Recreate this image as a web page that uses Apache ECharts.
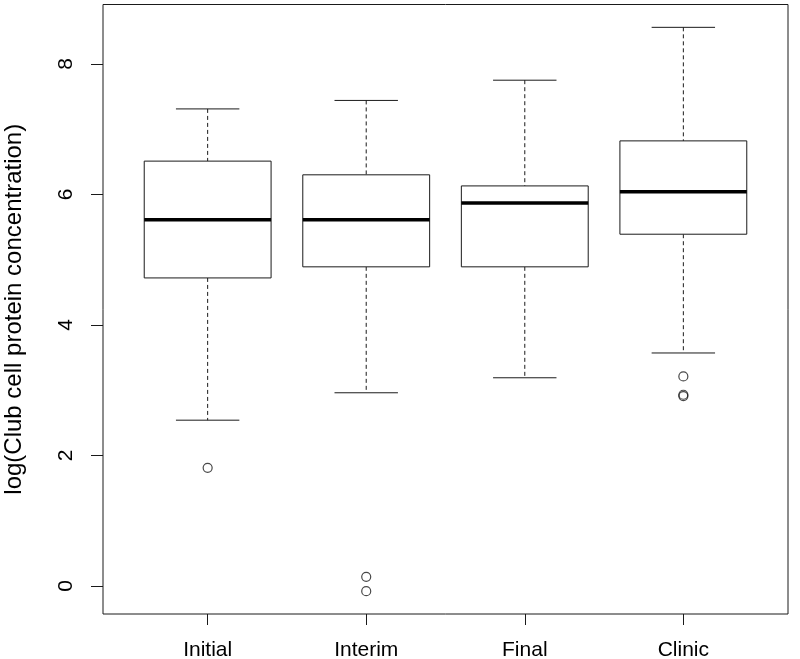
<!DOCTYPE html>
<html>
<head>
<meta charset="utf-8">
<script src="https://cdn.jsdelivr.net/npm/echarts@6/dist/echarts.min.js"></script>
<style>
html,body{margin:0;padding:0;background:#fff;}
#chart{width:800px;height:659px;}
</style>
</head>
<body>
<div id="chart"></div>
<script>
var categories = ['Initial', 'Interim', 'Final', 'Clinic'];
var lowerWhisker = [2.54, 2.96, 3.19, 3.57];
var q1Values = [4.72, 4.89, 4.89, 5.39];
var medianValues = [5.61, 5.61, 5.87, 6.04];
var q3Values = [6.51, 6.30, 6.13, 6.82];
var upperWhisker = [7.31, 7.44, 7.75, 8.56];
var outlierGroup = [1, 2, 2, 4, 4, 4];
var outlierValues = [1.81, 0.14, -0.08, 3.21, 2.93, 2.91];
var yTicks = [0, 2, 4, 6, 8];
var xTicks = [1, 2, 3, 4];

var boxData = categories.map(function (c, i) {
  return [i + 1, lowerWhisker[i], q1Values[i], medianValues[i], q3Values[i], upperWhisker[i]];
});
var outlierData = outlierGroup.map(function (g, i) { return [g, outlierValues[i]]; });

var LINE = '#1a1a1a';
var FONT = "'Liberation Sans', Arial, Helvetica, sans-serif";

function renderBox(params, api) {
  var x = api.value(0), lo = api.value(1), q1 = api.value(2), med = api.value(3), q3 = api.value(4), hi = api.value(5);
  var halfBox = 0.4, halfCap = 0.2;
  function P(a, b) { return api.coord([a, b]); }
  var dashStyle = { stroke: LINE, lineWidth: 1, lineDash: [4, 3], fill: null };
  var solid = { stroke: LINE, lineWidth: 1, fill: null };
  var pTop = P(x, hi), pQ3 = P(x, q3), pQ1 = P(x, q1), pLo = P(x, lo);
  var bl = P(x - halfBox, q1), tr = P(x + halfBox, q3);
  var ml = P(x - halfBox, med), mr = P(x + halfBox, med);
  var cl1 = P(x - halfCap, hi), cr1 = P(x + halfCap, hi);
  var cl2 = P(x - halfCap, lo), cr2 = P(x + halfCap, lo);
  return {
    type: 'group',
    children: [
      { type: 'line', shape: { x1: pTop[0], y1: pTop[1], x2: pQ3[0], y2: pQ3[1] }, style: dashStyle },
      { type: 'line', shape: { x1: pQ1[0], y1: pQ1[1], x2: pLo[0], y2: pLo[1] }, style: dashStyle },
      { type: 'line', shape: { x1: cl1[0], y1: cl1[1], x2: cr1[0], y2: cr1[1] }, style: solid },
      { type: 'line', shape: { x1: cl2[0], y1: cl2[1], x2: cr2[0], y2: cr2[1] }, style: solid },
      { type: 'rect', shape: { x: bl[0], y: tr[1], width: tr[0] - bl[0], height: bl[1] - tr[1] }, style: { stroke: LINE, lineWidth: 1, fill: '#fff' } },
      { type: 'line', shape: { x1: ml[0], y1: ml[1], x2: mr[0], y2: mr[1] }, style: { stroke: '#000', lineWidth: 3.5 } }
    ]
  };
}

var chart = echarts.init(document.getElementById('chart'), null, { renderer: 'canvas' });
chart.setOption({
  backgroundColor: '#fff',
  animation: false,
  grid: {
    left: 103, right: 12, top: 4.5, bottom: 45, show: true,
    borderColor: LINE, borderWidth: 1, backgroundColor: 'transparent',
    containLabel: false, outerBoundsMode: 'none'
  },
  xAxis: {
    type: 'value', min: 0.34, max: 4.66, position: 'bottom',
    axisLine: { show: false, onZero: false },
    splitLine: { show: false },
    axisTick: { show: true, customValues: xTicks, length: 11, lineStyle: { color: LINE } },
    axisLabel: {
      customValues: xTicks, margin: 26, color: '#000', fontFamily: FONT, fontSize: 21,
      formatter: function (v) { return categories[Math.round(v) - 1] || ''; }
    }
  },
  yAxis: {
    type: 'value', min: -0.43, max: 8.91, position: 'left',
    name: 'log(Club cell protein concentration)',
    nameLocation: 'middle', nameGap: 77, nameRotate: 90,
    nameTextStyle: { color: '#000', fontFamily: FONT, fontSize: 24 },
    axisLine: { show: false, onZero: false },
    splitLine: { show: false },
    axisTick: { show: true, customValues: yTicks, length: 12, lineStyle: { color: LINE } },
    axisLabel: { customValues: yTicks, rotate: 90, margin: 26, color: '#000', fontFamily: FONT, fontSize: 21 }
  },
  series: [
    { type: 'custom', renderItem: renderBox, data: boxData, encode: { x: 0, y: [1, 2, 3, 4, 5] }, z: 2 },
    {
      type: 'scatter', data: outlierData, symbol: 'circle', symbolSize: 9,
      itemStyle: { color: 'rgba(255,255,255,0)', borderColor: LINE, borderWidth: 1.2 }, z: 3
    }
  ]
});
</script>
</body>
</html>
